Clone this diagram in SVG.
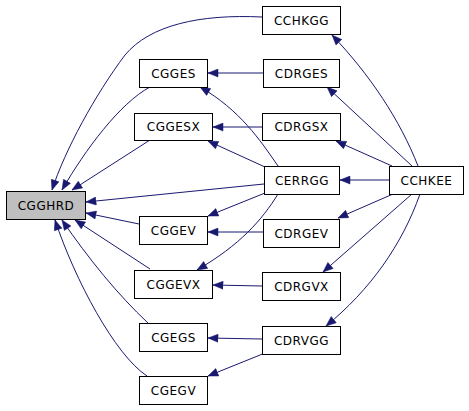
<svg xmlns="http://www.w3.org/2000/svg" width="469" height="411" viewBox="0 0 469 411">
<style>
.n rect{fill:#ffffff;stroke:#000000;stroke-width:1}
.n.root rect{fill:#bfbfbf}
.n text{font-family:"DejaVu Sans",sans-serif;font-size:12px;letter-spacing:0.5px;text-anchor:middle;fill:#000000}
.e path{fill:none;stroke:#191970;stroke-width:1;marker-end:url(#ah)}
</style>
<defs>
<marker id="ah" markerUnits="userSpaceOnUse" markerWidth="12" markerHeight="9" refX="10.5" refY="4.5" orient="auto">
<path d="M0.5,0.5 L10.5,4.5 L0.5,8.5 z" fill="#191970" stroke="#191970" stroke-width="0.5"/>
</marker>
</defs>
<rect width="469" height="411" fill="#ffffff"/>
<g id="connectors" class="e">
<path d="M262,17 C200,14 150,25 125,55 C95,95 65,150 52,190"/>
<path d="M150,87 C120,103 85,150 62,190"/>
<path d="M150,140 L72,190"/>
<path d="M264,184 L86,202"/>
<path d="M139,224 L86,213"/>
<path d="M150,269 L75,220"/>
<path d="M148,323 C118,295 88,258 62,220"/>
<path d="M147,376 C115,355 75,280 55,220"/>
<path d="M263,73 L208,73"/>
<path d="M278,166 C260,140 240,110 200,87"/>
<path d="M262,127 L213,127"/>
<path d="M265,167 L208,141"/>
<path d="M265,193 L208,216"/>
<path d="M263,232 L208,232"/>
<path d="M278,194 C262,220 240,245 197,270"/>
<path d="M262,286 L213,285"/>
<path d="M262,339 L208,338"/>
<path d="M265,353 L208,376"/>
<path d="M418,166 C400,120 370,75 332,35"/>
<path d="M412,166 L327,87"/>
<path d="M392,166 L336,141"/>
<path d="M389,180 L340,180"/>
<path d="M393,194 L338,218"/>
<path d="M412,194 L323,272"/>
<path d="M420,194 C402,245 370,290 326,326"/>
</g>
<g id="CGGHRD" class="n root"><rect x="6.5" y="191.5" width="79" height="28"/><text x="46" y="209.5">CGGHRD</text></g>
<g id="CCHKGG" class="n"><rect x="262.5" y="6.5" width="78" height="28"/><text x="301.5" y="24.5">CCHKGG</text></g>
<g id="CGGES" class="n"><rect x="139.5" y="59.5" width="68" height="28"/><text x="173.5" y="77.5">CGGES</text></g>
<g id="CDRGES" class="n"><rect x="263.5" y="59.5" width="76" height="28"/><text x="301.5" y="77.5">CDRGES</text></g>
<g id="CGGESX" class="n"><rect x="134.5" y="113.5" width="78" height="27"/><text x="173.5" y="131">CGGESX</text></g>
<g id="CDRGSX" class="n"><rect x="262.5" y="113.5" width="78" height="27"/><text x="301.5" y="131">CDRGSX</text></g>
<g id="CERRGG" class="n"><rect x="264.5" y="166.5" width="75" height="28"/><text x="302" y="184.5">CERRGG</text></g>
<g id="CCHKEE" class="n"><rect x="389.5" y="166.5" width="74" height="28"/><text x="426.5" y="184.5">CCHKEE</text></g>
<g id="CGGEV" class="n"><rect x="139.5" y="216.5" width="68" height="28"/><text x="173.5" y="234.5">CGGEV</text></g>
<g id="CDRGEV" class="n"><rect x="263.5" y="219.5" width="76" height="28"/><text x="301.5" y="237.5">CDRGEV</text></g>
<g id="CGGEVX" class="n"><rect x="134.5" y="270.5" width="78" height="28"/><text x="173.5" y="288.5">CGGEVX</text></g>
<g id="CDRGVX" class="n"><rect x="262.5" y="272.5" width="78" height="28"/><text x="301.5" y="290.5">CDRGVX</text></g>
<g id="CGEGS" class="n"><rect x="139.5" y="323.5" width="68" height="28"/><text x="173.5" y="341.5">CGEGS</text></g>
<g id="CDRVGG" class="n"><rect x="262.5" y="326.5" width="78" height="28"/><text x="301.5" y="344.5">CDRVGG</text></g>
<g id="CGEGV" class="n"><rect x="139.5" y="376.5" width="68" height="28"/><text x="173.5" y="394.5">CGEGV</text></g>
</svg>
